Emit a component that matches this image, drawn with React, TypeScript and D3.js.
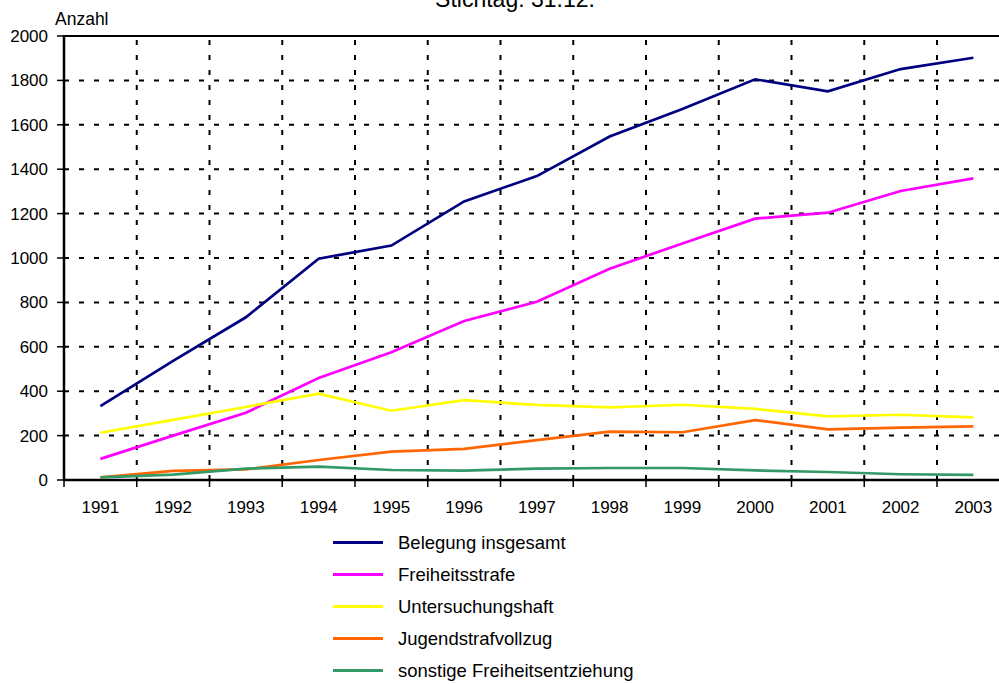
import React from 'react';
import * as d3 from 'd3';

const width = 999;
const height = 684;
const margin = {top: 36, left: 64, bottom: 204};
const bandWidth = 72.75;

// Stichtag 31.12., Anzahl je Jahr
const years = ['1991', '1992', '1993', '1994', '1995', '1996', '1997', '1998', '1999', '2000', '2001', '2002', '2003'];
const belegung = [333, 537, 733, 997, 1056, 1255, 1369, 1547, 1671, 1805, 1751, 1851, 1902];
const freiheitsstrafe = [95, 200, 303, 459, 575, 716, 803, 952, 1065, 1177, 1204, 1302, 1359];
const untersuchungshaft = [213, 271, 329, 389, 312, 360, 338, 327, 339, 320, 287, 294, 282];
const jugendstrafvollzug = [12, 41, 48, 90, 128, 140, 180, 218, 215, 270, 228, 236, 242];
const sonstige = [12, 24, 51, 60, 45, 42, 51, 54, 54, 43, 36, 26, 23];
const yTicks = [0, 200, 400, 600, 800, 1000, 1200, 1400, 1600, 1800, 2000];

const series = [
  {name: 'Belegung insgesamt', values: belegung, color: '#000080'},
  {name: 'Freiheitsstrafe', values: freiheitsstrafe, color: '#ff00ff'},
  {name: 'Untersuchungshaft', values: untersuchungshaft, color: '#ffff00'},
  {name: 'Jugendstrafvollzug', values: jugendstrafvollzug, color: '#ff6600'},
  {name: 'sonstige Freiheitsentziehung', values: sonstige, color: '#339966'},
];

const font = '"Liberation Sans", Arial, sans-serif';

export default function App() {
  const plotBottom = height - margin.bottom;
  const xScale = d3.scaleBand()
    .domain(years)
    .range([margin.left, margin.left + bandWidth * years.length])
    .padding(0);
  const yScale = d3.scaleLinear().domain([0, 2000]).range([plotBottom, margin.top]);
  const right = margin.left + bandWidth * years.length;

  const line = d3.line<number>()
    .x((d, i) => xScale(years[i])! + xScale.bandwidth() / 2)
    .y(d => yScale(d));

  // band boundaries for vertical grid and x ticks
  const bounds = years.map(y => xScale(y)!).concat([right]);

  return (
    <svg width={width} height={height} style={{position: 'absolute', left: 0, top: 0, background: '#fff'}}
      fontFamily={font}>
      <text x={515} y={7} fontSize={23} textAnchor='middle'>Stichtag: 31.12.</text>
      <text x={55} y={25} fontSize={17.5}>Anzahl</text>

      {/* horizontal grid */}
      {yTicks.filter(t => t > 0 && t < 2000).map(t => (
        <line key={'h' + t} x1={margin.left} x2={right} y1={yScale(t)} y2={yScale(t)}
          stroke='#000' strokeWidth={2} strokeDasharray='5 10' />
      ))}
      {/* vertical grid */}
      {bounds.slice(1).map((b, i) => (
        <line key={'v' + i} x1={b} x2={b} y1={margin.top} y2={plotBottom}
          stroke='#000' strokeWidth={2} strokeDasharray='5 10' strokeDashoffset={-4} />
      ))}
      <line x1={margin.left} x2={width} y1={margin.top} y2={margin.top} stroke='#000' strokeWidth={2} />

      {/* y axis */}
      <line x1={margin.left} x2={margin.left} y1={margin.top - 1} y2={plotBottom + 1} stroke='#000' strokeWidth={2.5} />
      {yTicks.map(t => (
        <g key={'y' + t}>
          <line x1={margin.left - 7} x2={margin.left} y1={yScale(t)} y2={yScale(t)} stroke='#000' strokeWidth={1.5} />
          <text x={48} y={yScale(t)} dy='0.35em' fontSize={17} textAnchor='end'>{t}</text>
        </g>
      ))}

      {/* x axis */}
      <line x1={margin.left} x2={width} y1={plotBottom} y2={plotBottom} stroke='#000' strokeWidth={2.5} />
      {bounds.map((b, i) => (
        <line key={'xt' + i} x1={b} x2={b} y1={plotBottom} y2={plotBottom + 7} stroke='#000' strokeWidth={1.5} />
      ))}
      {years.map(y => (
        <text key={'xl' + y} x={xScale(y)! + xScale.bandwidth() / 2} y={513} fontSize={17} textAnchor='middle'>{y}</text>
      ))}

      {series.map(s => (
        <path key={s.name} d={line(s.values)!} fill='none' stroke={s.color} strokeWidth={2.7} />
      ))}

      {/* legend */}
      {series.map((s, i) => (
        <g key={'lg' + s.name} transform={`translate(0, ${542.5 + i * 32})`}>
          <line x1={333} x2={383} y1={0} y2={0} stroke={s.color} strokeWidth={3} />
          <text x={398} y={0} dy='0.35em' fontSize={18.5}>{s.name}</text>
        </g>
      ))}
    </svg>
  );
}
